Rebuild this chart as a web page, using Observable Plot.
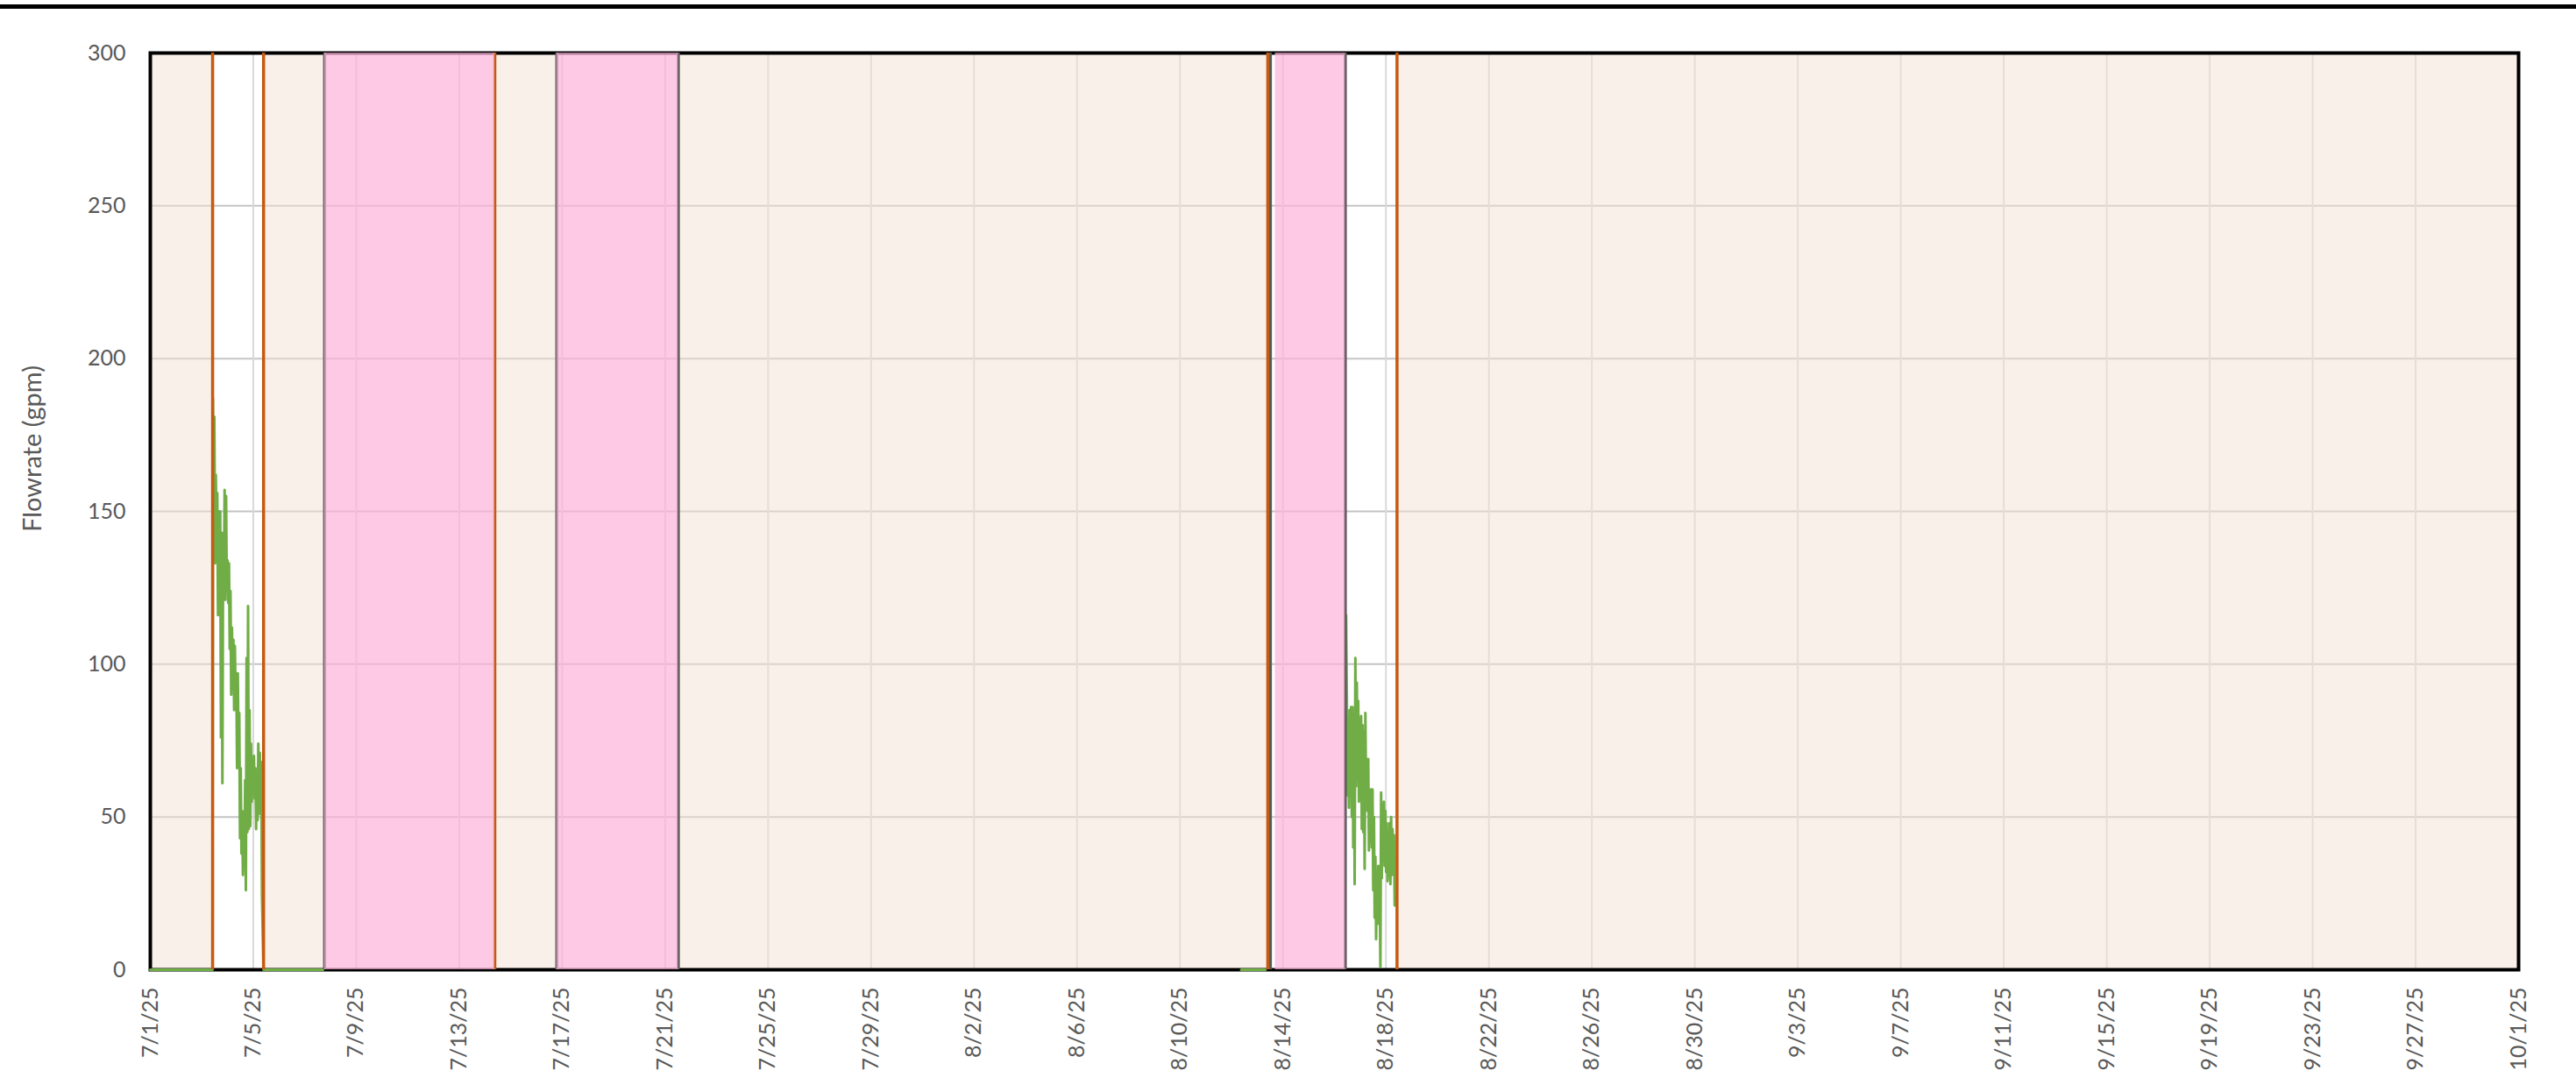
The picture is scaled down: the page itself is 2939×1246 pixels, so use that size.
<!DOCTYPE html>
<html><head><meta charset="utf-8">
<script src="https://cdn.jsdelivr.net/npm/d3@7"></script>
<script src="https://cdn.jsdelivr.net/npm/@observablehq/plot@0.6"></script>
<style>
html,body{margin:0;padding:0;background:#fff;overflow:hidden;}
#wrap{position:relative;width:2939px;height:1246px;}
#chart{position:absolute;left:0;top:0;}
#topbar{position:absolute;left:0;top:5px;width:2939px;height:5px;background:#000;}
#ylabel{position:absolute;left:35px;top:512px;transform:translate(-50%,-50%) rotate(-90deg);font-family:Lato,sans-serif;font-size:29px;color:#595959;white-space:nowrap;}
</style></head><body>
<div id="wrap"><div id="chart"></div><div id="topbar"></div><div id="ylabel">Flowrate (gpm)</div></div>
<script>
// ---- data ----
const xTicks = ["2025-07-01","2025-07-05","2025-07-09","2025-07-13","2025-07-17","2025-07-21","2025-07-25","2025-07-29",
  "2025-08-02","2025-08-06","2025-08-10","2025-08-14","2025-08-18","2025-08-22","2025-08-26","2025-08-30",
  "2025-09-03","2025-09-07","2025-09-11","2025-09-15","2025-09-19","2025-09-23","2025-09-27","2025-10-01"];
const yTicks = [0, 50, 100, 150, 200, 250, 300];

// periods shaded beige
const beigeSpans = [
  ["2025-07-01T00:00Z", "2025-07-03T10:05Z"],
  ["2025-07-05T09:35Z", "2025-07-07T18:30Z"],
  ["2025-07-14T09:10Z", "2025-07-16T19:00Z"],
  ["2025-07-21T12:15Z", "2025-08-13T09:50Z"],
  ["2025-08-18T10:20Z", "2025-10-01T00:00Z"]
];
// periods shaded pink
const pinkSpans = [
  ["2025-07-07T18:30Z", "2025-07-14T09:10Z"],
  ["2025-07-16T19:00Z", "2025-07-21T12:15Z"],
  ["2025-08-13T16:50Z", "2025-08-16T10:05Z"]
];
// event markers
const grayLines = ["2025-07-07T18:30Z", "2025-07-16T19:00Z", "2025-07-21T12:15Z", "2025-08-13T12:15Z", "2025-08-16T10:05Z"];
const orangeLines = ["2025-07-03T10:05Z", "2025-07-05T09:35Z", "2025-07-14T09:10Z", "2025-08-13T09:50Z", "2025-08-18T10:20Z"];

// flow readings at 0 gpm (start, end)
const zeroRuns = [
  ["2025-07-01T00:00Z", "2025-07-03T10:00Z"],
  ["2025-07-05T09:30Z", "2025-07-07T17:00Z"],
  ["2025-08-12T09:00Z", "2025-08-13T07:40Z"]
];
// first pumping run
const run1Start = "2025-07-03T10:20Z";
const run1StepMinutes = 41;
const run1Flow = [187,138,181,133,162,140,156,116,150,125,150,76,143,61,143,125,157,121,155,124,134,120,133,105,
  124,90,112,92,108,85,106,90,97,66,97,70,84,43,66,38,52,31,48,34,62,26,102,45,119,46,85,47,74,55,64,59,70,56,
  66,46,65,49,74,51,71,53,68,24];
// second pumping run
const run2Start = "2025-08-16T10:50Z";
const run2StepMinutes = 40;
const run2Flow = [116,90,57,82,53,85,60,86,50,86,40,84,28,102,60,94,62,88,55,82,60,83,46,80,45,78,33,84,55,69,52,
  69,39,59,42,59,40,59,26,50,17,37,10,32,15,34,22,27,1,58,30,54,42,55,34,52,32,48,29,42,31,48,28,50,31,46,33,44,21];

// ---- build ----
const T = s => new Date(s);
const flow = [];
function addZeroRun(run, seg) { flow.push({t: T(run[0]), v: 0, seg}); flow.push({t: T(run[1]), v: 0, seg}); }
function addRun(start, step, vals, seg) {
  const t0 = T(start).getTime();
  vals.forEach((v, i) => flow.push({t: new Date(t0 + i * step * 60000), v, seg}));
}
addZeroRun(zeroRuns[0], "a");
addRun(run1Start, run1StepMinutes, run1Flow, "a");
addZeroRun(zeroRuns[1], "a");
addZeroRun(zeroRuns[2], "b");
addRun(run2Start, run2StepMinutes, run2Flow, "c");

const fmt = d => `${d.getUTCMonth() + 1}/${d.getUTCDate()}/${String(d.getUTCFullYear()).slice(2)}`;
const xTickDates = xTicks.map(s => new Date(s + "T00:00Z"));

const chart = Plot.plot({
  width: 2939, height: 1246,
  marginTop: 60, marginBottom: 140, marginLeft: 171, marginRight: 66,
  style: {fontFamily: "Lato, sans-serif", fontSize: "25px", color: "#595959", background: "transparent"},
  x: {type: "utc", domain: [T("2025-07-01T00:00Z"), T("2025-10-01T00:00Z")]},
  y: {domain: [0, 300]},
  marks: [
    Plot.gridY(yTicks, {stroke: "#c4c4c4", strokeOpacity: 1, strokeWidth: 2}),
    Plot.gridX(xTickDates, {stroke: "#d9d9d9", strokeOpacity: 1, strokeWidth: 2}),
    Plot.rect(beigeSpans, {x1: d => T(d[0]), x2: d => T(d[1]), y1: 0, y2: 300, fill: "#F3E1D5", fillOpacity: 0.5}),
    Plot.frame({stroke: "#000", strokeWidth: 4}),
    Plot.line(flow, {x: "t", y: "v", z: "seg", stroke: "#70AD47", strokeWidth: 3}),
    Plot.ruleX(grayLines, {x: d => T(d), stroke: "#595959", strokeWidth: 3.5}),
    Plot.ruleX(orangeLines, {x: d => T(d), stroke: "#C55A11", strokeWidth: 3.5}),
    Plot.rect(pinkSpans, {x1: d => T(d[0]), x2: d => T(d[1]), y1: 0, y2: 300, fill: "#FEB2D8", fillOpacity: 0.7}),
    Plot.axisY(yTicks, {tickSize: 0, tickPadding: 28, label: null}),
    Plot.axisX(xTickDates, {tickSize: 0, tickPadding: 20, tickRotate: -90, tickFormat: fmt, label: null})
  ]
});
document.getElementById("chart").appendChild(chart);
</script></body></html>
